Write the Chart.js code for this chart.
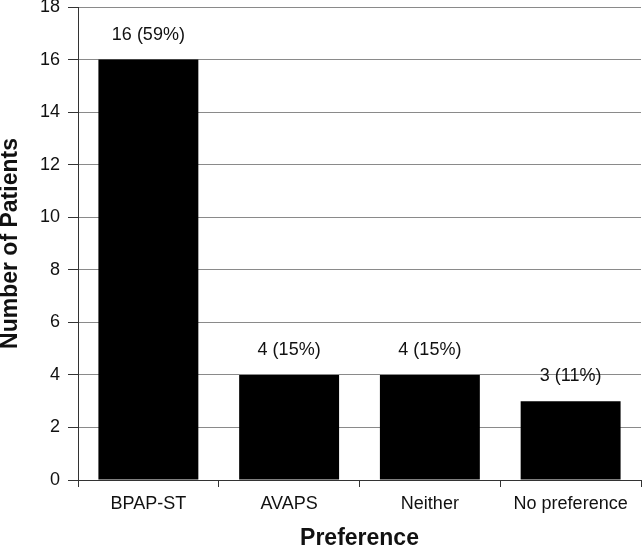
<!DOCTYPE html>
<html>
<head>
<meta charset="utf-8">
<script src="https://cdn.jsdelivr.net/npm/chart.js@4"></script>
<style>
  html, body { margin: 0; padding: 0; background: #fff; }
  #wrap { width: 642px; height: 549px; }
</style>
</head>
<body>
<div id="wrap"><canvas id="myChart" width="642" height="549"></canvas></div>
<script>
const categories = ['BPAP-ST', 'AVAPS', 'Neither', 'No preference'];
const patients = [16, 4, 4, 3];
const barLabels = ['16 (59%)', '4 (15%)', '4 (15%)', '3 (11%)'];
const yTicks = [0, 2, 4, 6, 8, 10, 12, 14, 16, 18];

const fontFamily = "'Liberation Sans', Arial, sans-serif";

// labels above the bars
const barLabelPlugin = {
    id: 'barLabels',
    afterDatasetsDraw(chart) {
        const ctx = chart.ctx;
        const meta = chart.getDatasetMeta(0);
        ctx.save();
        ctx.font = '18px ' + fontFamily;
        ctx.fillStyle = '#111';
        ctx.textAlign = 'center';
        ctx.textBaseline = 'middle';
        meta.data.forEach((bar, i) => {
            ctx.fillText(barLabels[i], bar.x, bar.y - 25);
        });
        ctx.restore();
    }
};

const ctx = document.getElementById('myChart').getContext('2d');
const myChart = new Chart(ctx, {
    type: 'bar',
    data: {
        labels: categories,
        datasets: [{
            data: patients,
            backgroundColor: '#000',
            borderWidth: 0,
            categoryPercentage: 1,
            barPercentage: 0.71
        }]
    },
    options: {
        responsive: false,
        animation: false,
        layout: { padding: { top: 0, right: 1, left: 0, bottom: 0 } },
        plugins: {
            legend: { display: false },
            tooltip: { enabled: false }
        },
        scales: {
            x: {
                grid: {
                    display: true,
                    offset: true,
                    drawOnChartArea: false,
                    drawTicks: true,
                    tickLength: 7,
                    color: '#333'
                },
                border: { display: true, color: '#333', width: 1 },
                ticks: {
                    color: '#111',
                    font: { size: 18, family: fontFamily },
                    padding: 6
                },
                title: {
                    display: true,
                    text: 'Preference',
                    color: '#111',
                    font: { size: 23, weight: 'bold', family: fontFamily, lineHeight: 0.9 },
                    padding: 0
                },
                afterFit(scale) { scale.height = 69; }
            },
            y: {
                min: 0,
                max: 18,
                afterBuildTicks(scale) { scale.ticks = yTicks.map(v => ({ value: v })); },
                grid: {
                    color: '#8a8a8a',
                    lineWidth: 1,
                    drawTicks: true,
                    tickLength: 10,
                    tickColor: '#333'
                },
                border: { display: true, color: '#333', width: 1 },
                ticks: {
                    color: '#111',
                    font: { size: 18, family: fontFamily },
                    padding: 8
                },
                title: {
                    display: true,
                    text: 'Number of Patients',
                    color: '#111',
                    font: { size: 23, weight: 'bold', family: fontFamily, lineHeight: 0.95 },
                    padding: 0
                },
                afterFit(scale) {
                    scale.width = 78;
                    scale.paddingTop = 7;
                    scale.paddingBottom = 0;
                }
            }
        }
    },
    plugins: [barLabelPlugin]
});
</script>
</body>
</html>
